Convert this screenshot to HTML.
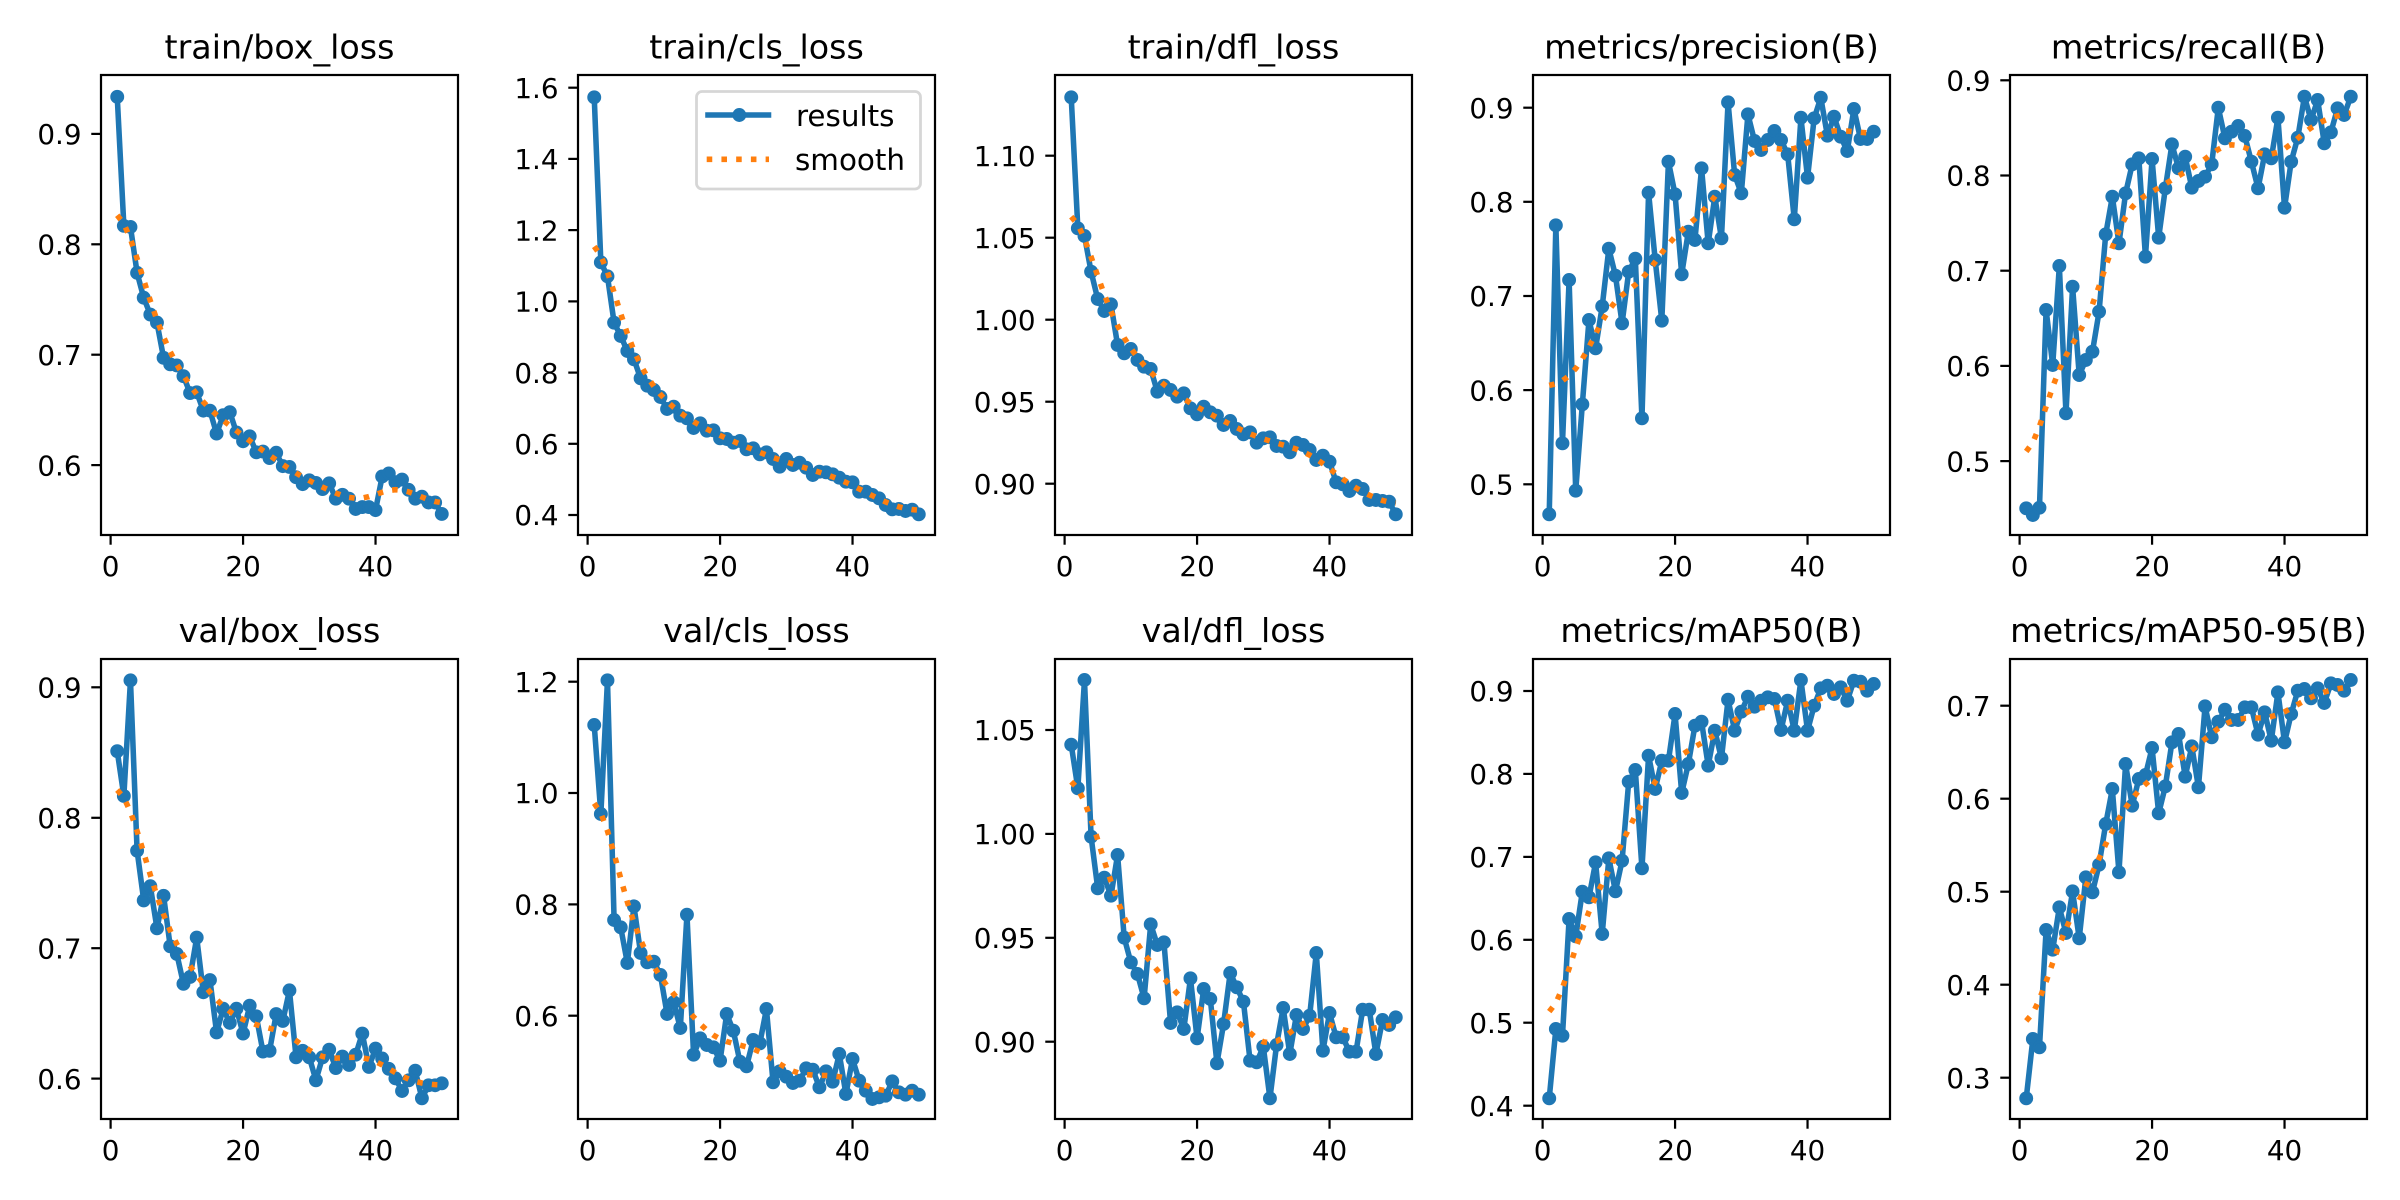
<!DOCTYPE html>
<html>
<head>
<meta charset="utf-8">
<style>
html,body{margin:0;padding:0;background:#fff;}
svg{display:block;}
text{font-family:"DejaVu Sans","Liberation Sans",sans-serif;fill:#000;}
.t{font-size:33.3px;text-anchor:middle;}
.xl{font-size:27.8px;text-anchor:middle;}
.yl{font-size:27.8px;text-anchor:end;}
.lg{font-size:29.4px;}
</style>
</head>
<body>
<svg id="fig" xmlns="http://www.w3.org/2000/svg" width="2400" height="1200" viewBox="0 0 2400 1200">
<rect x="0" y="0" width="2400" height="1200" fill="#fff"/>
<g id="data"></g>
<g id="ticks" stroke="#000" stroke-width="2.22"></g>
<g fill="none" stroke="#000" stroke-width="2.22">
<rect x="101" y="75" width="357" height="460"/>
<rect x="578" y="75" width="357" height="460"/>
<rect x="1055" y="75" width="357" height="460"/>
<rect x="1533" y="75" width="357" height="460"/>
<rect x="2010" y="75" width="357" height="460"/>
<rect x="101" y="659" width="357" height="460"/>
<rect x="578" y="659" width="357" height="460"/>
<rect x="1055" y="659" width="357" height="460"/>
<rect x="1533" y="659" width="357" height="460"/>
<rect x="2010" y="659" width="357" height="460"/>
</g>
<!-- titles -->
<text class="t" x="279.5" y="58.5">train/box_loss</text>
<text class="t" x="756.5" y="58.5">train/cls_loss</text>
<text class="t" x="1233.5" y="58.5">train/dfl_loss</text>
<text class="t" x="1711.5" y="58.5">metrics/precision(B)</text>
<text class="t" x="2188.5" y="58.5">metrics/recall(B)</text>
<text class="t" x="279.5" y="642">val/box_loss</text>
<text class="t" x="756.5" y="642">val/cls_loss</text>
<text class="t" x="1233.5" y="642">val/dfl_loss</text>
<text class="t" x="1711.5" y="642">metrics/mAP50(B)</text>
<text class="t" x="2188.5" y="642">metrics/mAP50-95(B)</text>
<!-- x tick labels row1 -->
<text class="xl" x="110.6" y="576">0</text><text class="xl" x="243.1" y="576">20</text><text class="xl" x="375.5" y="576">40</text>
<text class="xl" x="587.6" y="576">0</text><text class="xl" x="720.1" y="576">20</text><text class="xl" x="852.5" y="576">40</text>
<text class="xl" x="1064.6" y="576">0</text><text class="xl" x="1197.1" y="576">20</text><text class="xl" x="1329.5" y="576">40</text>
<text class="xl" x="1542.6" y="576">0</text><text class="xl" x="1675.1" y="576">20</text><text class="xl" x="1807.5" y="576">40</text>
<text class="xl" x="2019.6" y="576">0</text><text class="xl" x="2152.1" y="576">20</text><text class="xl" x="2284.5" y="576">40</text>
<!-- x tick labels row2 -->
<text class="xl" x="110.6" y="1160">0</text><text class="xl" x="243.1" y="1160">20</text><text class="xl" x="375.5" y="1160">40</text>
<text class="xl" x="587.6" y="1160">0</text><text class="xl" x="720.1" y="1160">20</text><text class="xl" x="852.5" y="1160">40</text>
<text class="xl" x="1064.6" y="1160">0</text><text class="xl" x="1197.1" y="1160">20</text><text class="xl" x="1329.5" y="1160">40</text>
<text class="xl" x="1542.6" y="1160">0</text><text class="xl" x="1675.1" y="1160">20</text><text class="xl" x="1807.5" y="1160">40</text>
<text class="xl" x="2019.6" y="1160">0</text><text class="xl" x="2152.1" y="1160">20</text><text class="xl" x="2284.5" y="1160">40</text>
<!-- y tick labels -->
<text class="yl" x="81.6" y="144.1">0.9</text><text class="yl" x="81.6" y="254.5">0.8</text><text class="yl" x="81.6" y="364.9">0.7</text><text class="yl" x="81.6" y="475.3">0.6</text>
<text class="yl" x="558.6" y="97.9">1.6</text><text class="yl" x="558.6" y="169.1">1.4</text><text class="yl" x="558.6" y="240.3">1.2</text><text class="yl" x="558.6" y="311.6">1.0</text><text class="yl" x="558.6" y="382.8">0.8</text><text class="yl" x="558.6" y="454.0">0.6</text><text class="yl" x="558.6" y="525.2">0.4</text>
<text class="yl" x="1035.6" y="165.9">1.10</text><text class="yl" x="1035.6" y="247.9">1.05</text><text class="yl" x="1035.6" y="329.9">1.00</text><text class="yl" x="1035.6" y="411.9">0.95</text><text class="yl" x="1035.6" y="493.9">0.90</text>
<text class="yl" x="1513.6" y="117.9">0.9</text><text class="yl" x="1513.6" y="212.0">0.8</text><text class="yl" x="1513.6" y="306.2">0.7</text><text class="yl" x="1513.6" y="400.3">0.6</text><text class="yl" x="1513.6" y="494.5">0.5</text>
<text class="yl" x="1990.6" y="90.5">0.9</text><text class="yl" x="1990.6" y="185.7">0.8</text><text class="yl" x="1990.6" y="280.9">0.7</text><text class="yl" x="1990.6" y="376.1">0.6</text><text class="yl" x="1990.6" y="471.3">0.5</text>
<text class="yl" x="81.6" y="697.5">0.9</text><text class="yl" x="81.6" y="828.0">0.8</text><text class="yl" x="81.6" y="958.4">0.7</text><text class="yl" x="81.6" y="1088.8">0.6</text>
<text class="yl" x="558.6" y="691.9">1.2</text><text class="yl" x="558.6" y="803.2">1.0</text><text class="yl" x="558.6" y="914.6">0.8</text><text class="yl" x="558.6" y="1025.9">0.6</text>
<text class="yl" x="1035.6" y="740.2">1.05</text><text class="yl" x="1035.6" y="844.1">1.00</text><text class="yl" x="1035.6" y="948.0">0.95</text><text class="yl" x="1035.6" y="1051.9">0.90</text>
<text class="yl" x="1513.6" y="701.2">0.9</text><text class="yl" x="1513.6" y="784.1">0.8</text><text class="yl" x="1513.6" y="867.1">0.7</text><text class="yl" x="1513.6" y="950.0">0.6</text><text class="yl" x="1513.6" y="1032.9">0.5</text><text class="yl" x="1513.6" y="1115.9">0.4</text>
<text class="yl" x="1990.6" y="715.9">0.7</text><text class="yl" x="1990.6" y="808.9">0.6</text><text class="yl" x="1990.6" y="901.9">0.5</text><text class="yl" x="1990.6" y="994.9">0.4</text><text class="yl" x="1990.6" y="1087.9">0.3</text>
<!-- legend -->
<rect x="696.5" y="91.5" width="224" height="97.5" rx="5.6" ry="5.6" fill="#fff" fill-opacity="0.8" stroke="#cccccc" stroke-opacity="0.8" stroke-width="2.78"/>
<line x1="708" y1="115" x2="768.5" y2="115" stroke="#1f77b4" stroke-width="5.56" stroke-linecap="square"/>
<circle cx="739.3" cy="115" r="5.56" fill="#1f77b4" stroke="#1f77b4" stroke-width="2.78"/>
<line x1="706.7" y1="159.3" x2="769" y2="159.3" stroke="#ff7f0e" stroke-width="5.56" stroke-dasharray="5.56 9.17" stroke-linecap="butt"/>
<text class="lg" x="796" y="126">results</text>
<text class="lg" x="795" y="170">smooth</text>
</svg>
<script>
(function(){
var NS="http://www.w3.org/2000/svg";
var cols=[101,578,1055,1533,2010];
var W=357;
function X(c,e){return cols[c]+(e+1.45)*W/53.9;}
var plots=[
 {c:0,off:0,div:2.613,t:[133.9,244.3,354.7,465.1],b:535,p:[253,590,593,713,778,822,843,935,952,955,983,1027,1025,1073,1073,1133,1085,1077,1130,1153,1140,1182,1180,1197,1183,1218,1220,1247,1265,1255,1262,1278,1263,1303,1293,1303,1330,1325,1325,1333,1245,1237,1260,1253,1280,1303,1298,1313,1313,1343]},
 {c:1,off:65,div:3,t:[87.7,158.9,230.1,301.4,372.6,443.8,515.0],b:535,p:[97,592,634,773,813,858,883,940,962,975,996,1032,1025,1052,1060,1089,1075,1097,1096,1120,1122,1133,1128,1153,1150,1168,1162,1182,1205,1182,1200,1193,1208,1230,1220,1222,1228,1238,1250,1252,1280,1280,1290,1300,1320,1333,1332,1338,1334,1348]},
 {c:2,off:65,div:3,t:[155.7,237.7,319.7,401.7,483.7],b:535,p:[97,490,513,620,702,738,718,840,865,852,885,905,912,980,962,975,995,985,1030,1048,1025,1042,1052,1080,1068,1092,1108,1102,1133,1120,1117,1143,1145,1162,1133,1140,1155,1185,1172,1190,1252,1258,1278,1262,1272,1305,1305,1308,1310,1348]},
 {c:3,off:65,div:3,t:[107.7,201.8,296.0,390.1,484.3],b:535,p:[1348,481,1135,645,1277,1018,765,850,724,551,632,775,620,581,1060,383,585,767,290,388,628,500,525,310,535,395,520,112,330,385,148,228,255,225,198,225,268,463,158,338,160,98,212,155,215,258,132,222,222,200]},
 {c:4,off:65,div:3,t:[80.3,175.5,270.7,365.9,461.1],b:535,p:[1330,1350,1328,735,900,603,1045,665,930,885,860,740,508,395,535,385,298,280,575,282,518,370,238,310,275,368,348,335,298,128,220,200,183,213,290,370,268,280,158,428,290,218,95,165,105,235,202,130,150,95]},
 {c:0,off:600,div:2.613,t:[687.3,817.8,948.2,1078.6],b:1119,p:[395,512,210,655,785,748,858,773,905,925,1003,985,882,1025,993,1130,1068,1105,1068,1133,1060,1088,1180,1178,1082,1100,1020,1195,1178,1195,1255,1195,1175,1223,1193,1215,1188,1133,1220,1172,1198,1225,1250,1283,1255,1230,1302,1268,1268,1263]},
 {c:1,off:649,div:3,t:[681.7,793.0,904.4,1015.7],b:1119,p:[228,495,94,813,835,942,772,912,940,938,978,1095,1060,1137,797,1217,1168,1188,1195,1235,1095,1145,1238,1252,1173,1183,1080,1300,1267,1283,1302,1295,1258,1262,1315,1267,1298,1215,1335,1230,1295,1325,1350,1345,1340,1297,1330,1337,1325,1337]},
 {c:2,off:649,div:3,t:[730.0,833.9,937.8,1041.7],b:1119,p:[287,418,93,563,718,686,740,618,866,940,975,1048,826,888,880,1122,1090,1140,988,1168,1020,1050,1243,1125,972,1015,1058,1235,1240,1193,1348,1188,1077,1215,1098,1140,1100,912,1205,1092,1165,1165,1208,1208,1082,1082,1215,1113,1128,1105]},
 {c:3,off:649,div:3,t:[691.0,773.9,856.9,939.8,1022.7,1105.7],b:1119,p:[1348,1140,1160,810,862,728,745,640,855,628,727,635,398,363,658,320,420,335,335,195,432,345,230,218,350,245,328,152,245,188,143,173,155,145,150,243,155,245,93,245,170,118,110,135,115,155,95,98,125,105]},
 {c:4,off:649,div:3,t:[705.7,798.7,891.7,984.7,1077.7],b:1119,p:[1348,1170,1195,843,902,775,852,727,868,685,730,647,525,420,670,345,470,390,378,297,493,412,280,255,383,292,415,172,265,218,182,213,213,175,175,257,190,275,130,280,195,125,120,148,118,162,103,108,125,93]}
];
function gauss(y){
 var s=3,r=12,w=[],sum=0,i,k;
 for(i=-r;i<=r;i++){var v=Math.exp(-0.5*i*i/(s*s));w.push(v);sum+=v;}
 var n=y.length,out=[];
 for(i=0;i<n;i++){var a=0;for(k=-r;k<=r;k++){var j=i+k;while(j<0||j>=n){if(j<0)j=-j-1;if(j>=n)j=2*n-j-1;}a+=w[k+r]*y[j];}out.push(a/sum);}
 return out;
}
function el(name,attrs,parent){var e=document.createElementNS(NS,name);for(var a in attrs)e.setAttribute(a,attrs[a]);parent.appendChild(e);return e;}
var data=document.getElementById("data"),ticks=document.getElementById("ticks");
plots.forEach(function(P){
 var ys=P.p.map(function(v){return P.off+v/P.div;});
 var xs=[];for(var e=1;e<=50;e++)xs.push(X(P.c,e));
 var pts=xs.map(function(x,i){return x.toFixed(2)+","+ys[i].toFixed(2);}).join(" ");
 el("polyline",{points:pts,fill:"none",stroke:"#1f77b4","stroke-width":"5.56","stroke-linejoin":"round","stroke-linecap":"square"},data);
 xs.forEach(function(x,i){el("circle",{cx:x.toFixed(2),cy:ys[i].toFixed(2),r:"5.56",fill:"#1f77b4",stroke:"#1f77b4","stroke-width":"2.78"},data);});
 var sm=gauss(ys);
 var spts=xs.map(function(x,i){return x.toFixed(2)+","+sm[i].toFixed(2);}).join(" ");
 el("polyline",{points:spts,fill:"none",stroke:"#ff7f0e","stroke-width":"5.56","stroke-dasharray":"5.56 9.17","stroke-linecap":"butt"},data);
 // ticks
 var L=cols[P.c];
 P.t.forEach(function(ty){el("line",{x1:L-9.72,y1:ty,x2:L,y2:ty},ticks);});
 [0,20,40].forEach(function(e){var x=X(P.c,e);el("line",{x1:x,y1:P.b,x2:x,y2:P.b+9.72},ticks);});
});
})();
</script>
</body>
</html>
